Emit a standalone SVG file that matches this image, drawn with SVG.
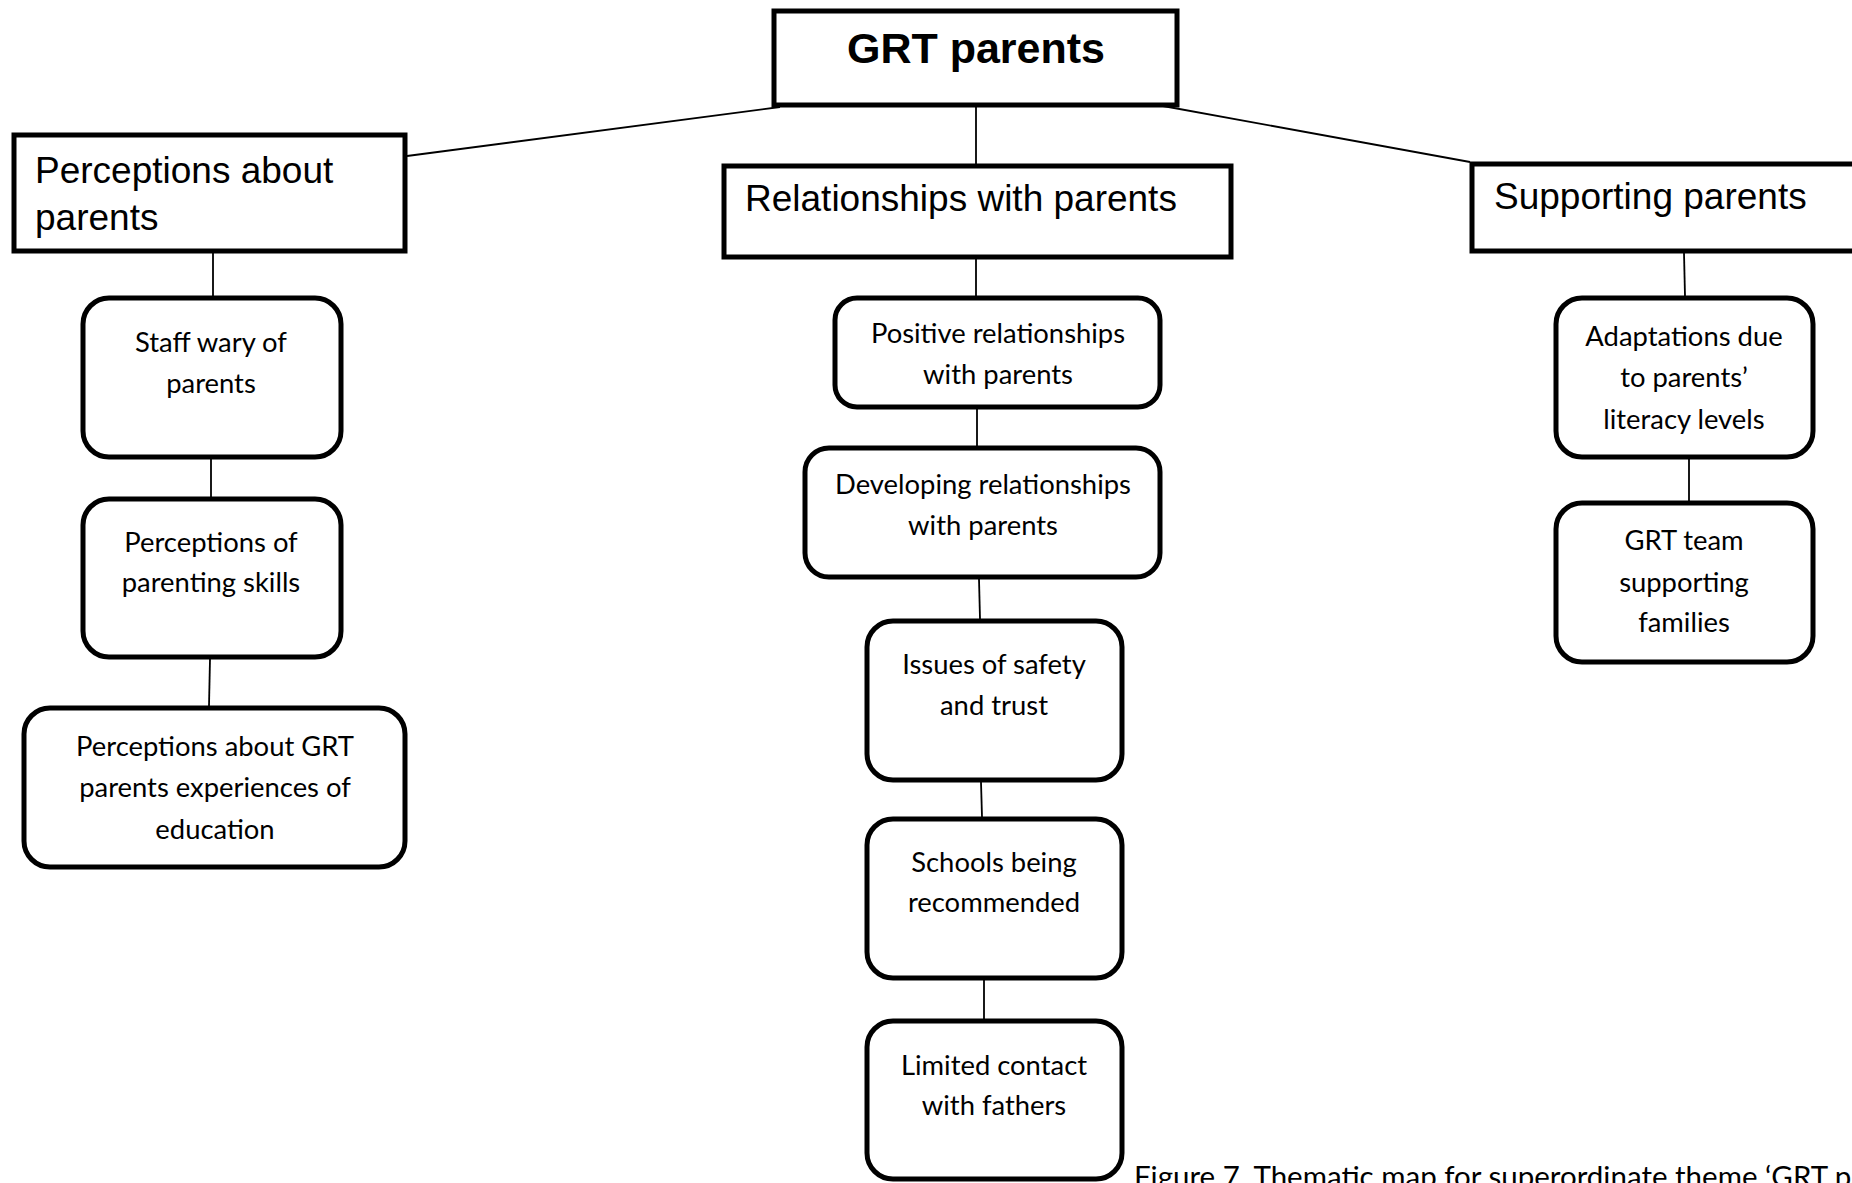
<svg xmlns="http://www.w3.org/2000/svg" width="1852" height="1183" viewBox="0 0 1852 1183">
<style>
.hdr{fill:#fff;stroke:#000;stroke-width:5}
.box{fill:#fff;stroke:#000;stroke-width:5}
.h{font-family:"Liberation Sans",Arial,sans-serif;font-size:37px;fill:#000}
.t{font-family:Lato,"Open Sans",sans-serif;font-size:27.4px;fill:#000;text-anchor:middle}
.c{stroke:#000;stroke-width:1.8;fill:none}
</style>
<rect width="1852" height="1183" fill="#fff"/>
<g id="connectors">
<line class="c" x1="780" y1="107" x2="407" y2="156"/>
<line class="c" x1="976" y1="106" x2="976" y2="164"/>
<line class="c" x1="1163" y1="106" x2="1470" y2="162"/>
<line class="c" x1="213" y1="253" x2="213" y2="296"/>
<line class="c" x1="211" y1="459" x2="211" y2="497"/>
<line class="c" x1="210" y1="659" x2="209" y2="706"/>
<line class="c" x1="976" y1="259" x2="976" y2="296"/>
<line class="c" x1="977" y1="409" x2="977" y2="446"/>
<line class="c" x1="979" y1="579" x2="980" y2="619"/>
<line class="c" x1="981" y1="782" x2="982" y2="817"/>
<line class="c" x1="984" y1="980" x2="984" y2="1019"/>
<line class="c" x1="1684" y1="253" x2="1685" y2="296"/>
<line class="c" x1="1689" y1="459" x2="1689" y2="501"/>
</g>
<g id="grt-parents">
<rect class="hdr" x="774" y="11" width="403" height="94"/>
<text x="976" y="63" text-anchor="middle" style="font-family:'Liberation Sans',Arial,sans-serif;font-size:43px;font-weight:bold">GRT parents</text>
</g>
<g id="perceptions-about-parents">
<rect class="hdr" x="14" y="135" width="391" height="116"/>
<text class="h" x="35" y="183">Perceptions about</text>
<text class="h" x="35" y="230">parents</text>
</g>
<g id="relationships-with-parents">
<rect class="hdr" x="724" y="166" width="507" height="91"/>
<text class="h" x="745" y="211">Relationships with parents</text>
</g>
<g id="supporting-parents">
<rect class="hdr" x="1472" y="164" width="390" height="87"/>
<text class="h" x="1494" y="209">Supporting parents</text>
</g>
<g id="staff-wary">
<rect class="box" x="83" y="298" width="258" height="159" rx="26"/>
<text class="t" x="211" y="352">Staff wary of</text>
<text class="t" x="211" y="393">parents</text>
</g>
<g id="perceptions-parenting">
<rect class="box" x="83" y="499" width="258" height="158" rx="26"/>
<text class="t" x="211" y="552">Perceptions of</text>
<text class="t" x="211" y="592">parenting skills</text>
</g>
<g id="perceptions-about-grt">
<rect class="box" x="24" y="708" width="381" height="159" rx="26"/>
<text class="t" x="215" y="756">Perceptions about GRT</text>
<text class="t" x="215" y="797">parents experiences of</text>
<text class="t" x="215" y="839">education</text>
</g>
<g id="positive-relationships">
<rect class="box" x="835" y="298" width="325" height="109" rx="22"/>
<text class="t" x="998" y="343">Positive relationships</text>
<text class="t" x="998" y="384">with parents</text>
</g>
<g id="developing-relationships">
<rect class="box" x="805" y="448" width="355" height="129" rx="24"/>
<text class="t" x="983" y="494">Developing relationships</text>
<text class="t" x="983" y="535">with parents</text>
</g>
<g id="issues-safety">
<rect class="box" x="867" y="621" width="255" height="159" rx="26"/>
<text class="t" x="994" y="674">Issues of safety</text>
<text class="t" x="994" y="715">and trust</text>
</g>
<g id="schools-recommended">
<rect class="box" x="867" y="819" width="255" height="159" rx="26"/>
<text class="t" x="994" y="872">Schools being</text>
<text class="t" x="994" y="912">recommended</text>
</g>
<g id="limited-contact">
<rect class="box" x="867" y="1021" width="255" height="158" rx="26"/>
<text class="t" x="994" y="1075">Limited contact</text>
<text class="t" x="994" y="1115">with fathers</text>
</g>
<g id="adaptations">
<rect class="box" x="1556" y="298" width="257" height="159" rx="26"/>
<text class="t" x="1684" y="346">Adaptations due</text>
<text class="t" x="1684" y="387">to parents’</text>
<text class="t" x="1684" y="429">literacy levels</text>
</g>
<g id="grt-team">
<rect class="box" x="1556" y="503" width="257" height="159" rx="26"/>
<text class="t" x="1684" y="550">GRT team</text>
<text class="t" x="1684" y="592">supporting</text>
<text class="t" x="1684" y="632">families</text>
</g>
<text x="1134" y="1187" style="font-family:Lato,'Open Sans',sans-serif;font-size:29.5px;fill:#000">Figure 7. Thematic map for superordinate theme ‘GRT parents’</text>
</svg>
